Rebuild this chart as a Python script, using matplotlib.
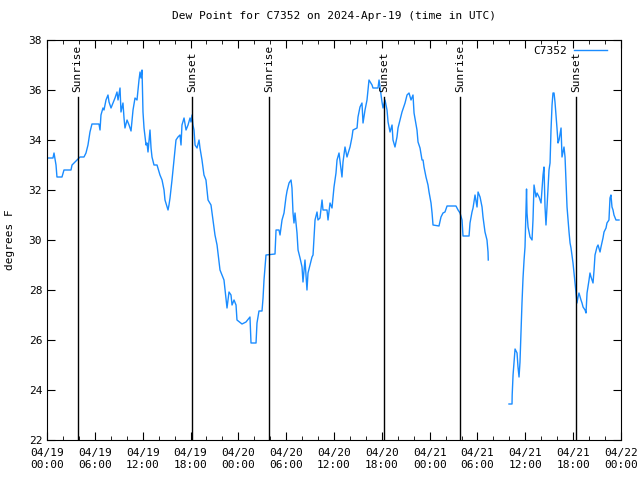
import numpy as np
import matplotlib
matplotlib.use("Agg")
import matplotlib.pyplot as plt
from matplotlib.ticker import MultipleLocator

# hours since 2024-04-19 00:00 UTC, dew point in F (NaN = data gap)
hours = [0.00, 0.75, 0.88, 1.13, 1.25, 1.88, 2.13, 3.01, 3.14, 3.51, 3.76, 4.14, 4.64, 4.89, 5.14,
         5.39, 5.64, 6.52, 6.65, 6.77, 7.02, 7.15, 7.40, 7.65, 7.78, 8.03, 8.28, 8.53, 8.78, 8.91,
         9.16, 9.28, 9.53, 9.66, 9.78, 10.04, 10.29, 10.54, 10.79, 11.04, 11.29, 11.54, 11.67, 11.79,
         11.92, 12.04, 12.17, 12.42, 12.54, 12.67, 12.80, 12.92, 13.05, 13.17, 13.42, 13.80, 14.17,
         14.43, 14.68, 14.80, 15.18, 15.30, 15.43, 15.68, 15.93, 16.18, 16.43, 16.68, 16.81, 16.93,
         17.19, 17.44, 17.69, 17.94, 18.06, 18.19, 18.31, 18.44, 18.57, 18.82, 19.07, 19.19, 19.44,
         19.69, 19.94, 20.20, 20.57, 20.82, 21.07, 21.33, 21.58, 21.70, 21.95, 22.20, 22.45, 22.58,
         22.83, 23.08, 23.21, 23.46, 23.71, 23.83, 24.46, 24.96, 25.46, 25.59, 26.22, 26.34, 26.59,
         26.97, 27.10, 27.22, 27.47, 28.60, 28.73, 29.10, 29.23, 29.48, 29.73, 29.98, 30.11, 30.36,
         30.61, 30.73, 30.86, 30.98, 31.11, 31.36, 31.49, 31.74, 31.99, 32.11, 32.36, 32.61, 32.74,
         33.24, 33.37, 33.62, 33.87, 33.99, 34.24, 34.50, 34.62, 35.12, 35.25, 35.50, 35.75, 36.00,
         36.25, 36.38, 36.63, 37.00, 37.13, 37.38, 37.63, 38.01, 38.26, 38.38, 38.89, 39.01, 39.26,
         39.51, 39.64, 39.89, 40.14, 40.39, 40.77, 40.89, 41.52, 41.65, 42.02, 42.15, 42.40, 42.65,
         42.78, 43.03, 43.28, 43.40, 43.65, 43.90, 44.03, 44.28, 44.53, 44.91, 45.16, 45.41, 45.66,
         45.91, 46.04, 46.41, 46.54, 46.79, 47.04, 47.17, 47.29, 47.54, 47.79, 47.92, 48.17, 48.30,
         48.42, 49.17, 49.42, 49.67, 49.92, 50.18, 51.30, 51.56, 51.81, 52.06, 52.18, 52.94, 53.06,
         53.31, 53.44, 53.69, 53.94, 54.07, 54.32, 54.57, 54.69, 54.94, 55.19, 55.32, 55.35,
         56.50,
         57.95, 58.33, 58.35, 58.46, 58.58, 58.71, 58.96, 59.08, 59.21, 59.33, 59.46, 59.58, 59.71,
         59.84, 59.96, 60.09, 60.15, 60.21, 60.34, 60.59, 60.84, 60.96, 61.03, 61.09, 61.34, 61.47,
         61.72, 61.97, 62.09, 62.22, 62.34, 62.47, 62.59, 62.72, 62.85, 62.97, 63.10, 63.22, 63.35,
         63.47, 63.60, 63.72, 63.85, 63.97, 64.10, 64.23, 64.48, 64.60, 64.73, 64.85, 64.98, 65.10,
         65.23, 65.48, 65.61, 65.73, 65.98, 66.11, 66.23, 66.36, 66.48, 66.61, 66.73, 66.98, 67.11,
         67.24, 67.49, 67.61, 67.74, 67.99, 68.11, 68.24, 68.49, 68.62, 68.74, 68.99, 69.12, 69.37,
         69.49, 69.74, 69.87, 70.12, 70.24, 70.49, 70.62, 70.74, 70.87, 71.00, 71.12, 71.37, 71.75]

dewpoint = [33.28, 33.28, 33.48, 33.0, 32.52, 32.52, 32.8, 32.8, 33.0, 33.12, 33.2, 33.32, 33.32, 33.48, 33.8,
            34.32, 34.64, 34.64, 34.4, 35.0, 35.28, 35.2, 35.6, 35.8, 35.52, 35.28, 35.48, 35.68, 35.92, 35.6,
            36.08, 35.12, 35.48, 34.88, 34.48, 34.8, 34.6, 34.36, 35.2, 35.68, 35.6, 36.4, 36.72, 36.48,
            36.8, 35.12, 34.48, 33.8, 33.88, 33.52, 34.0, 34.4, 33.68, 33.32, 33.0, 33.0, 32.6,
            32.4, 32.0, 31.6, 31.2, 31.4, 31.68, 32.4, 33.2, 34.0, 34.12, 34.2, 33.8, 34.6,
            34.88, 34.4, 34.6, 34.88, 34.72, 35.0, 34.6, 34.4, 33.8, 33.68, 34.0, 33.68, 33.2,
            32.6, 32.4, 31.6, 31.4, 30.8, 30.2, 29.8, 29.12, 28.8, 28.6, 28.4, 27.68, 27.28,
            27.92, 27.8, 27.4, 27.6, 27.4, 26.8, 26.64, 26.72, 26.92, 25.88, 25.88, 26.68, 27.16,
            27.16, 27.68, 28.4, 29.4, 29.44, 30.4, 30.4, 30.2, 30.8, 31.08, 31.72, 31.96, 32.28,
            32.4, 32.08, 31.08, 30.68, 31.08, 30.28, 29.6, 29.28, 28.92, 28.32, 29.2, 28.0, 28.68,
            29.32, 29.4, 30.8, 31.12, 30.8, 30.88, 31.6, 31.2, 31.2, 30.8, 31.48, 31.28, 32.12,
            32.68, 33.2, 33.48, 32.52, 33.12, 33.72, 33.32, 33.72, 34.12, 34.4, 34.48, 34.92, 35.32,
            35.48, 34.68, 35.2, 35.6, 36.4, 36.2, 36.08, 36.08, 36.4, 35.52, 35.28, 35.6, 35.2,
            34.72, 34.32, 34.6, 34.0, 33.72, 34.12, 34.48, 34.8, 35.12, 35.48, 35.8, 35.88, 35.6,
            35.8, 35.08, 34.4, 33.92, 33.68, 33.2, 33.2, 32.92, 32.52, 32.2, 31.92, 31.48, 31.08,
            30.6, 30.56, 30.92, 31.08, 31.12, 31.36, 31.36, 31.2, 31.08, 30.8, 30.16, 30.16, 30.68,
            31.12, 31.28, 31.8, 31.32, 31.92, 31.72, 31.32, 30.92, 30.32, 30.0, 29.52, 29.2,
            np.nan,
            23.44, 23.44, 23.8, 24.6, 25.12, 25.64, 25.48, 24.92, 24.52, 25.12, 26.32, 27.48, 28.48,
            29.2, 29.72, 31.32, 32.04, 31.08, 30.52, 30.12, 30.0, 30.8, 31.6, 32.2, 31.72, 31.88,
            31.72, 31.48, 32.0, 32.6, 32.92, 31.32, 30.6, 31.32, 32.12, 32.8, 33.08, 34.4, 35.4,
            35.88, 35.88, 35.52, 35.0, 34.48, 33.88, 34.0, 34.48, 33.32, 33.52, 33.72, 33.32, 32.4,
            31.32, 30.32, 29.88, 29.68, 29.08, 28.68, 28.28, 27.88, 27.48, 27.72, 27.88, 27.6, 27.48,
            27.32, 27.2, 27.08, 27.88, 28.4, 28.68, 28.52, 28.28, 28.8, 29.4, 29.72, 29.8, 29.52,
            29.72, 30.08, 30.32, 30.48, 30.68, 30.8, 31.68, 31.8, 31.32, 31.2, 31.0, 30.8, 30.8]

sun_events = ["Sunrise", "Sunset", "Sunrise", "Sunset", "Sunrise", "Sunset"]
sun_hours = [3.85, 18.22, 27.88, 42.32, 51.84, 66.38]

tick_labels = ["04/19\n00:00", "04/19\n06:00", "04/19\n12:00", "04/19\n18:00",
               "04/20\n00:00", "04/20\n06:00", "04/20\n12:00", "04/20\n18:00",
               "04/21\n00:00", "04/21\n06:00", "04/21\n12:00", "04/21\n18:00",
               "04/22\n00:00"]

plt.rcParams['font.family'] = ['DejaVu Sans Mono']
plt.rcParams['font.size'] = 8

fig = plt.figure(figsize=(6.4, 4.8), dpi=100)
ax = fig.add_axes([47/640, 40/480, 574/640, 400/480])

ax.plot(hours, dewpoint, color='#1a8cff', lw=1, label='C7352')

# sunrise / sunset markers
for name, h in zip(sun_events, sun_hours):
    ax.plot([h, h], [22, 35.72], color='black', lw=1)
    ax.text(h, 35.9, name, rotation=90, ha='center', va='bottom', fontsize=8)

ax.set_xlim(0, 72)
ax.set_ylim(22, 38)
ax.set_xticks(np.arange(0, 73, 6))
ax.set_xticklabels(tick_labels)
ax.xaxis.set_minor_locator(MultipleLocator(2))
ax.set_yticks(np.arange(22, 39, 2))
ax.tick_params(which='both', direction='in', top=True, right=True)
ax.tick_params(which='major', length=6)
ax.tick_params(which='minor', length=3)
ax.tick_params(axis='x', pad=6)

ax.set_title("Dew Point for C7352 on 2024-Apr-19 (time in UTC)", fontsize=8, pad=15)
ax.set_ylabel("degrees F", labelpad=10)

ax.legend(loc='upper right', frameon=False, markerfirst=False, handlelength=3.0,
          handletextpad=0.6, borderaxespad=0.2, borderpad=0.3, fontsize=8,
          bbox_to_anchor=(0.985, 1.0))

fig.savefig("out.png", dpi=100)
